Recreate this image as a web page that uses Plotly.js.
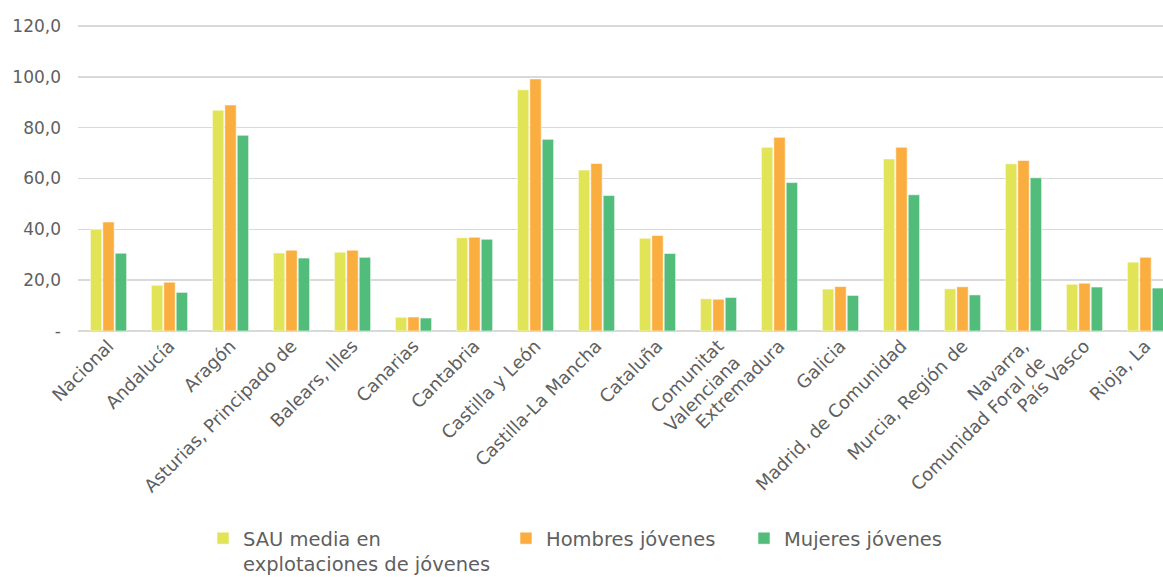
<!DOCTYPE html>
<html>
<head>
<meta charset="utf-8">
<script src="https://cdn.plot.ly/plotly-3.0.1.min.js"></script>
<style>
html, body { margin: 0; padding: 0; overflow: hidden; background: #ffffff; }
#chart { width: 1240px; height: 577px; }
</style>
</head>
<body>
<div id="chart"></div>
<script>
const categories = [
  "Nacional", "Andalucía", "Aragón", "Asturias, Principado de", "Balears, Illes",
  "Canarias", "Cantabria", "Castilla y León", "Castilla-La Mancha", "Cataluña",
  "Comunitat<br>Valenciana", "Extremadura", "Galicia", "Madrid, de Comunidad",
  "Murcia, Región de", "Navarra,<br>Comunidad Foral de", "País Vasco", "Rioja, La"
];
const sauMedia = [40.0, 18.0, 86.9, 30.7, 31.0, 5.4, 36.7, 94.9, 63.3, 36.5, 12.7, 72.3, 16.5, 67.7, 16.6, 65.8, 18.4, 27.1];
const hombres  = [42.9, 19.2, 88.9, 31.8, 31.8, 5.5, 36.9, 99.2, 65.9, 37.6, 12.5, 76.2, 17.5, 72.3, 17.4, 67.1, 18.8, 29.0];
const mujeres  = [30.6, 15.2, 77.0, 28.7, 29.0, 5.1, 36.1, 75.4, 53.3, 30.5, 13.2, 58.4, 14.0, 53.6, 14.2, 60.3, 17.3, 16.9];
const seriesNames = ["SAU media en<br>explotaciones de jóvenes", "Hombres jóvenes", "Mujeres jóvenes"];
const yTickVals = [0, 20, 40, 60, 80, 100, 120];
const yTickText = ["-", "20,0", "40,0", "60,0", "80,0", "100,0", "120,0"];

const colors = ["#E2E457", "#FBAE40", "#52BD7B"];
const FONT = "DejaVu Sans, Open Sans, sans-serif";
const textColor = "#5f5f5f";

function bar(y, i, legendId) {
  return {
    type: "bar",
    x: categories,
    y: y,
    name: seriesNames[i],
    legend: legendId,
    marker: { color: colors[i], line: { color: "rgba(255,255,255,0.55)", width: 1 } },
    hoverinfo: "x+y+name"
  };
}

const data = [
  bar(sauMedia, 0, "legend"),
  bar(hombres, 1, "legend2"),
  bar(mujeres, 2, "legend3")
];

const legendBase = {
  orientation: "h",
  xref: "container",
  yref: "container",
  xanchor: "left",
  yanchor: "top",
  y: (577 - 519) / 577,
  valign: "top",
  font: { family: FONT, size: 19.5, color: textColor },
  bgcolor: "rgba(0,0,0,0)",
  itemwidth: 30,
  itemclick: false,
  itemdoubleclick: false
};

const layout = {
  width: 1240,
  height: 577,
  margin: { l: 78, r: 3, t: 25, b: 246 },
  paper_bgcolor: "#ffffff",
  plot_bgcolor: "#ffffff",
  font: { family: FONT, color: textColor },
  barmode: "group",
  bargap: 0.39,
  bargroupgap: 0.08,
  xaxis: {
    type: "category",
    range: [-0.5, 18.5],
    tickangle: -45,
    tickfont: { family: FONT, size: 18, color: textColor },
    showgrid: false,
    showline: false,
    ticks: "",
    zeroline: false,
    automargin: false
  },
  yaxis: {
    range: [0, 120.4],
    tickvals: yTickVals,
    ticktext: yTickText,
    tickfont: { family: FONT, size: 17, color: textColor },
    showgrid: true,
    gridcolor: "#D9D9D9",
    gridwidth: 1.5,
    zeroline: true,
    zerolinecolor: "#D9D9D9",
    zerolinewidth: 1.5,
    showline: false,
    ticks: "",
    ticklabelstandoff: 16,
    automargin: false
  },
  showlegend: true,
  legend: Object.assign({}, legendBase, { x: 203 / 1240 }),
  legend2: Object.assign({}, legendBase, { x: 506 / 1240 }),
  legend3: Object.assign({}, legendBase, { x: 744 / 1240 })
};

Plotly.newPlot("chart", data, layout, { displayModeBar: false, staticPlot: true });
</script>
</body>
</html>
